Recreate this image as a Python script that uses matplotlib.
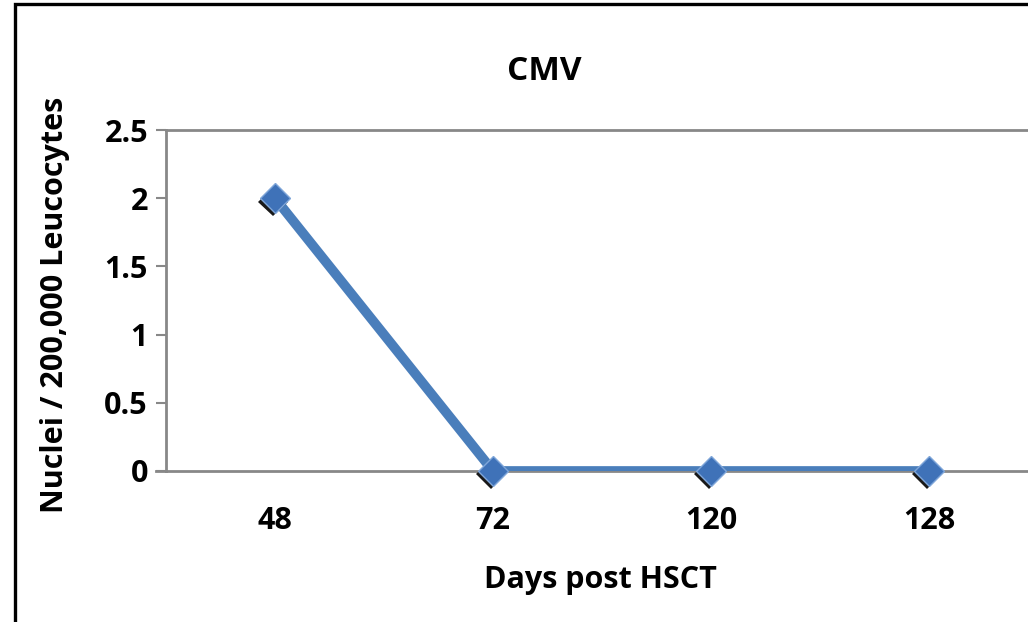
import matplotlib.pyplot as plt
import matplotlib.patheffects as pe
from matplotlib.patches import Rectangle

# CMV nuclei counts over time after transplant
days = ['48', '72', '120', '128']
nuclei = [2, 0, 0, 0]
y_ticks = [0, 0.5, 1, 1.5, 2, 2.5]
y_tick_labels = ['0', '0.5', '1', '1.5', '2', '2.5']

plt.rcParams['font.family'] = ['Open Sans', 'DejaVu Sans']
plt.rcParams['font.weight'] = 'bold'

fig = plt.figure(figsize=(10.28, 6.22), dpi=100)

# outer frame of the chart area
fig.patches.append(Rectangle((15 / 1028, -0.1), 1.2, 1.1 - 5 / 622 + 0.001,
                             transform=fig.transFigure, fill=False,
                             edgecolor='black', linewidth=2.4))

ax = fig.add_axes([166 / 1028, 151 / 622, 872 / 1028, 341 / 622])
x = list(range(len(days)))
ax.plot(x, nuclei, color='#4a7ebb', linewidth=7, solid_capstyle='butt', zorder=3)
ax.plot(x, nuclei, linestyle='none', marker='D', markersize=15,
        markerfacecolor='#3f72b8', markeredgecolor='#7fa6d9', markeredgewidth=1,
        zorder=4, clip_on=False,
        path_effects=[pe.SimplePatchShadow(offset=(-1.5, -2.5), shadow_rgbFace='black', alpha=0.9),
                      pe.Normal()])

ax.set_xlim(-0.5, 3.5)
ax.set_ylim(0, 2.5)
ax.set_xticks(x)
ax.set_xticklabels(days, fontsize=22, fontweight='bold')
ax.set_yticks(y_ticks)
ax.set_yticklabels(y_tick_labels, fontsize=22, fontweight='bold')
ax.tick_params(axis='x', length=0, pad=25)
ax.tick_params(axis='y', length=7, width=1.5, color='#888888', pad=6)

for side in ['left', 'bottom', 'top']:
    ax.spines[side].set_color('#888888')
    ax.spines[side].set_linewidth(2)
ax.spines['right'].set_visible(False)

# zero line reaches past the y axis like a tick
ax.plot([-0.545, -0.5], [0, 0], color='#888888', linewidth=2, clip_on=False)

fig.text(544 / 1028, 1 - 72 / 622, 'CMV', fontsize=24, fontweight='bold',
         ha='center', va='center')
fig.text(600 / 1028, 1 - 580 / 622, 'Days post HSCT', fontsize=22, fontweight='bold',
         ha='center', va='center')
fig.text(55 / 1028, 1 - 305 / 622, 'Nuclei / 200,000 Leucocytes', fontsize=22,
         fontweight='bold', ha='center', va='center', rotation=90)

fig.savefig('out.png', dpi=100)
